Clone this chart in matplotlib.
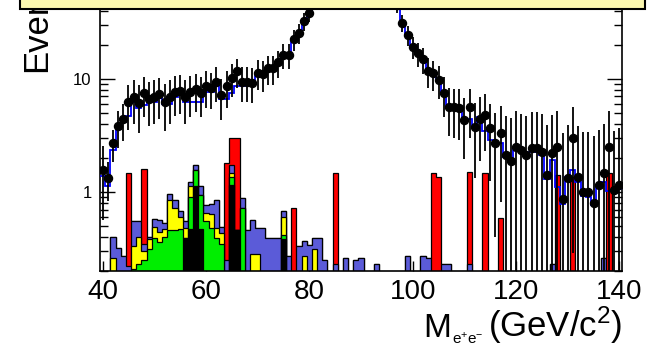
import numpy as np
import matplotlib
matplotlib.use("Agg")
import matplotlib.pyplot as plt
from matplotlib.patches import Rectangle
from matplotlib.ticker import FixedLocator, NullFormatter

plt.rcParams['font.family'] = ['Liberation Sans', 'DejaVu Sans']
plt.rcParams['mathtext.fontset'] = 'custom'
plt.rcParams['mathtext.rm'] = 'Liberation Sans'
plt.rcParams['mathtext.it'] = 'Liberation Sans:italic'

# 1 GeV bins, centres 40..140
mass = np.arange(40, 141)
edges = np.append(mass - 0.5, mass[-1] + 0.5)

data = [
    1.57, 1.33, 2.70, 3.84, 4.40, 6.22, 6.89, 6.10, 7.47, 6.60,   # 40-49
    6.90, 7.30, 6.30, 6.90, 7.70, 7.90, 6.90, 7.60, 8.10, 7.50,   # 50-59
    8.60, 8.40, 9.50, 7.20, 8.60, 10.2, 11.7, 9.50, 9.50, 9.30,   # 60-69
    11.4, 11.1, 12.4, 12.4, 14.0, 16.3, 16.3, 22.4, 25.4, 32.3,   # 70-79
    38.0, 48.0, 60.0, 78.0, 100., 135., 185., 260., 370., 520.,   # 80-89
    690., 760., 640., 420., 240., 130., 75.0, 45.0, 31.5, 24.5,   # 90-99
    19.3, 16.9, 14.9, 11.8, 11.2, 9.80, 7.50, 5.70, 5.60, 5.50,   # 100-109
    4.34, 5.60, 3.74, 4.40, 4.80, 3.66, 2.70, 3.31, 2.13, 1.88,   # 110-119
    2.52, 2.35, 2.13, 2.44, 2.44, 2.27, 1.41, 2.20, 2.52, 0.86,   # 120-129
    1.32, 2.99, 1.35, 1.00, 1.00, 0.80, 1.15, 1.48, 2.49, 1.04,   # 130-139
    1.15]

data_err = [
    1.0, 0.5, 0.85, 1.4, 1.6, 2.7, 2.9, 2.8, 2.9, 2.8,
    2.9, 2.9, 2.8, 2.9, 3.0, 3.0, 2.9, 3.0, 3.0, 2.9,
    3.1, 3.0, 3.2, 2.9, 3.1, 3.3, 3.4, 3.2, 3.2, 3.2,
    3.4, 3.4, 3.5, 3.5, 3.8, 4.0, 4.0, 4.7, 5.0, 5.7,
    6.2, 7.0, 8.0, 9.0, 10., 12., 14., 16., 19., 23.,
    26., 28., 25., 20., 15., 11., 9.0, 6.7, 5.6, 5.0,
    4.4, 4.1, 3.9, 3.4, 3.3, 3.1, 2.9, 2.6, 2.6, 2.6,
    2.4, 2.6, 2.4, 2.5, 2.5, 2.4, 2.3, 2.5, 2.6, 2.6,
    2.7, 2.6, 2.6, 2.7, 2.7, 2.6, 2.5, 2.6, 2.7, 2.5,
    2.6, 2.7, 2.5, 2.4, 2.4, 2.3, 2.4, 2.5, 2.7, 2.4,
    2.5]

mc = [
    1.39, 1.14, 2.35, 3.59, 4.19, 4.70, 6.30, 5.57, 5.90, 6.30,   # 40-49
    6.30, 6.75, 6.00, 6.00, 6.90, 7.30, 6.30, 6.30, 6.30, 6.30,   # 50-59
    7.60, 7.75, 8.60, 6.60, 6.60, 7.50, 8.70, 8.70, 9.20, 9.20,   # 60-69
    10.6, 11.6, 12.0, 12.4, 14.2, 15.6, 15.6, 22.4, 25.4, 32.0,   # 70-79
    38.0, 47.0, 60.0, 77.0, 100., 135., 185., 260., 370., 510.,   # 80-89
    660., 720., 620., 410., 240., 135., 78.0, 44.0, 30.0, 24.0,   # 90-99
    19.3, 16.5, 15.0, 12.0, 11.3, 9.60, 7.60, 5.70, 5.60, 5.40,   # 100-109
    4.30, 4.40, 3.80, 4.60, 3.50, 2.90, 2.65, 2.73, 2.05, 1.85,   # 110-119
    2.35, 2.27, 2.13, 2.27, 2.25, 2.13, 1.30, 1.92, 1.10, 0.78,   # 120-129
    1.35, 1.57, 1.23, 0.92, 0.91, 0.77, 1.13, 1.23, 1.03, 1.07,   # 130-139
    1.07]

# background components, {bin centre: events}; stacked bottom to top
bkg_black = {56: .39, 57: .47, 58: 1.13, 59: .47, 65: 1.15, 66: .46, 75: .38}
bkg_green = {46: .21, 47: .23, 48: .25, 49: .31, 50: .39, 51: .36, 52: .40,
             53: .46, 54: .46, 55: .47, 57: .44, 58: .44, 59: .47, 60: .55,
             61: .48, 62: .39, 63: .35, 65: .22, 67: .72, 75: .04}
bkg_yellow = {42: .26, 46: .12, 47: .17, 48: .05, 49: .07, 50: .10, 51: .08,
              52: .07, 53: .39, 54: .26, 55: .13, 56: .09, 57: .22, 60: .10,
              61: .16, 62: .09, 63: .08, 65: .10, 69: .28, 70: .28, 75: .18,
              79: .27, 81: .31}
bkg_blue = {42: .14, 43: .32, 44: .27, 45: .22, 46: .22, 47: .15, 48: .05,
            49: .02, 50: .09, 51: .12, 52: .06, 53: .12, 54: .13, 55: .08,
            56: .07, 57: .10, 58: .16, 59: .19, 60: .12, 61: .15, 62: .37,
            63: .06, 64: .25, 65: .26, 67: .16, 68: .46, 69: .29, 70: .20,
            71: .48, 72: .39, 73: .39, 74: .39, 75: .08, 76: .27, 77: .12,
            78: .33, 79: .10, 80: .34, 81: .08, 82: .39, 83: .25, 85: .23,
            87: .26, 89: .25, 90: .26, 93: .23, 99: .27, 102: .27, 103: .26,
            104: .10, 105: .10, 106: .23, 107: .23, 111: .23, 114: .10,
            117: .10, 127: .23, 128: .10, 131: .10, 137: .26, 138: .10}
bkg_red = {45: 1.26, 48: 1.24, 64: 1.57, 65: 1.25, 66: 2.52, 77: .60,
           85: 1.25, 104: 1.38, 105: 1.25, 111: 1.28, 114: 1.36, 117: .49,
           128: 1.31, 131: 1.27, 138: 1.36}

layers = [(bkg_black, '#000000'), (bkg_green, '#00ee00'), (bkg_yellow, '#ffff00'),
          (bkg_blue, '#5b5bd8'), (bkg_red, '#ff0000')]


def to_array(d):
    a = np.zeros(len(mass))
    for m, v in d.items():
        a[m - 40] = v
    return a


W, H = 654, 347
fig = plt.figure(figsize=(W / 100, H / 100), dpi=100)
ax = fig.add_axes([100 / W, 76 / H, 522 / W, 271 / H])
ax.set_yscale('log')

# stacked backgrounds: draw cumulative sums from the top layer down
cum = np.cumsum([to_array(d) for d, _ in layers], axis=0)
for i in range(len(layers) - 1, -1, -1):
    ax.stairs(np.maximum(cum[i], 1e-3), edges, baseline=1e-3, fill=True,
              facecolor=layers[i][1], edgecolor='black', linewidth=0.9, zorder=2)

ax.stairs(mc, edges, baseline=None, color='#0000ff', linewidth=1.3, zorder=3)
ax.errorbar(mass, data, yerr=data_err, fmt='o', color='black', ms=5.8,
            elinewidth=1.3, capsize=0, zorder=4)

ax.set_xlim(39.5, 140.5)
ax.set_ylim(0.2, 50)

ax.xaxis.set_major_locator(FixedLocator([40, 60, 80, 100, 120, 140]))
ax.yaxis.set_major_locator(FixedLocator([1, 10]))
ax.yaxis.set_minor_locator(FixedLocator([0.2, 0.3, 0.4, 0.5, 0.6, 0.7, 0.8, 0.9,
                                         2, 3, 4, 5, 6, 7, 8, 9, 20, 30, 40, 50]))
ax.yaxis.set_minor_formatter(NullFormatter())
ax.set_yticklabels(['1', '10'])
ax.tick_params(axis='x', which='major', direction='in', length=7, width=1,
               labelsize=20, pad=6)
ax.tick_params(axis='x', which='minor', bottom=False)
ax.tick_params(axis='y', which='both', direction='in', right=True, width=1,
               labelsize=12, pad=6)
ax.tick_params(axis='y', which='major', length=11)
ax.tick_params(axis='y', which='minor', length=5.5)
for s in ax.spines.values():
    s.set_linewidth(1.2)

fig.text(20 / W, 1 - 72 / H, 'Events', rotation=90, ha='left', va='bottom',
         fontsize=25)

# x title: M, small e+e- subscript, then units
fig.text(423 / W, 1 - 337 / H, 'M', ha='left', va='baseline', fontsize=24)
fig.text(452 / W, 1 - 344 / H, r'$\mathrm{e^{+}e^{-}}$', ha='left', va='baseline',
         fontsize=11)
fig.text(622 / W, 1 - 337 / H, r'(GeV/c$^{\mathrm{2}}$)', ha='right', va='baseline',
         fontsize=25)

# legend box cut by the top edge
fig.patches.append(Rectangle((20 / W, 1 - 8.5 / H), 625 / W, 0.2,
                             transform=fig.transFigure, facecolor='#fbf7b0',
                             edgecolor='black', linewidth=1.5, zorder=10))

fig.savefig('out.png', dpi=100)
